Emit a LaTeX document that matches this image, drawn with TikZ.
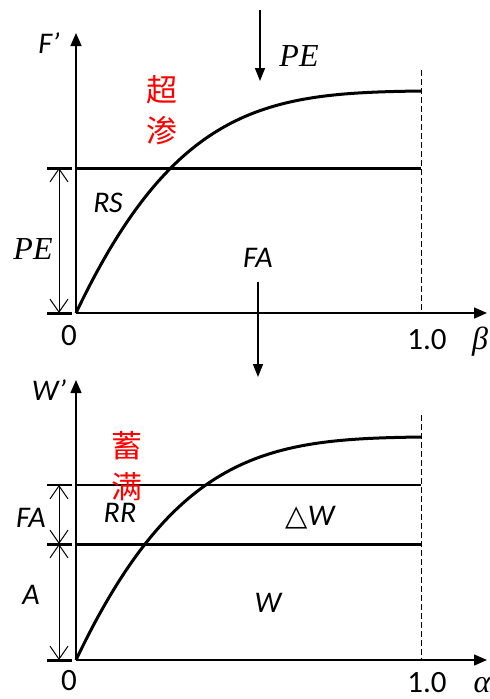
\documentclass[tikz,border=0pt]{standalone}
\usepackage{fontspec}
\usepackage{tikz}
\usetikzlibrary{arrows.meta}
\newfontfamily\labfont{Carlito}
\newfontfamily\varfont{Liberation Serif}
\newfontfamily\trifont{DejaVu Sans}
\newfontfamily\cjk{Noto Sans CJK SC}

\begin{document}
\begin{tikzpicture}[
  x=1pt, y=-1pt,
  axis/.style={line width=1.5pt, -{Triangle[length=13pt, width=11pt]}},
  flow/.style={line width=1.5pt, -{Triangle[length=13pt, width=10pt]}},
  level/.style={line width=3pt},
  thinlevel/.style={line width=2pt},
  tick/.style={line width=3pt},
  limit/.style={line width=1pt, dash pattern=on 6pt off 3pt},
  runoff/.style={line width=3pt},
  dim/.style={line width=1pt, {Straight Barb[length=13pt, width=18pt]}-{Straight Barb[length=13pt, width=18pt]}},
  lab/.style={font=\labfont\itshape\fontsize{30}{32}\selectfont, inner sep=0pt},
  num/.style={font=\labfont\fontsize{31}{32}\selectfont, inner sep=0pt, anchor=base},
  mth/.style={font=\varfont\itshape\fontsize{32}{34}\selectfont, inner sep=0pt},
  cn/.style={text=red, font=\cjk\fontsize{31}{41}\selectfont, align=center, inner sep=0pt}
]
\useasboundingbox (0,0) rectangle (490,699);

% upper plot: F' against beta
\coordinate (o1) at (76,313);
\coordinate (ytop1) at (76,33);
\coordinate (xend1) at (487,313);
\draw[axis] (o1) -- (ytop1);
\draw[axis] (o1) -- (xend1);
\draw[tick] (47,313) -- (72,313);
\draw[tick] (47,168) -- (72,168);
\coordinate (pe1) at (77,168);
\coordinate (pe2) at (421,168);
\draw[level] (pe1) -- (pe2);
\draw[limit] (421,70) -- (421,313);
\coordinate (top1) at (421,91);
\draw[runoff] (o1) .. controls (176,103) and (270,93) .. (top1);
\coordinate (d1a) at (59,168);
\coordinate (d1b) at (59,313);
\draw[dim] (d1a) -- (d1b);

\node[lab] (fp) at (49,43) {F’};
\node[num] (zero1) at (69,345) {0};
\node[num] (one1) at (427,349) {1.0};
\node[mth, anchor=base] (beta) at (480,349) {β};
\node[mth] (pelab) at (33,249) {PE};
\node[lab] (rs) at (108,203) {RS};
\node[cn] (chaoshen) at (162,110) {超\\渗};

% rain input and infiltration
\coordinate (pein) at (260,10);
\coordinate (peout) at (260,81);
\draw[flow] (pein) -- (peout);
\node[mth] (pein lab) at (299,56) {PE};
\node[lab] (fa) at (258,258) {FA};
\coordinate (fain) at (258,282);
\coordinate (faout) at (258,377);
\draw[flow] (fain) -- (faout);

% lower plot: W' against alpha
\coordinate (o2) at (76,660);
\coordinate (ytop2) at (76,380);
\coordinate (xend2) at (487,660);
\draw[axis] (o2) -- (ytop2);
\draw[axis] (o2) -- (xend2);
\draw[tick] (47,660) -- (72,660);
\draw[tick] (47,544) -- (72,544);
\draw[thinlevel] (47,485) -- (72,485);
\draw[thinlevel] (77,485) -- (421,485);
\draw[level] (77,544) -- (421,544);
\draw[limit] (421,415) -- (421,660);
\coordinate (top2) at (421,437);
\draw[runoff] (o2) .. controls (176,450) and (270,439) .. (top2);
\coordinate (d2a) at (59,485);
\coordinate (d2b) at (59,544);
\coordinate (d2c) at (59,660);
\draw[dim] (d2a) -- (d2b);
\draw[dim] (d2b) -- (d2c);

\node[lab] (wp) at (49,390) {W’};
\node[num] (zero2) at (69,690) {0};
\node[num] (one2) at (427,692) {1.0};
\node[mth, anchor=base] (alpha) at (482,692) {α};
\node[lab] (falab) at (31,518) {FA};
\node[lab] (alab) at (31,595) {A};
\node[lab] (rr) at (120,513) {RR};
\node[cn] (xuman) at (127,466) {蓄\\满};
\node[lab] (dw) at (310,518) {{\trifont\upshape\fontsize{29}{30}\selectfont△}W};
\node[lab] (w) at (268,603) {W};
\end{tikzpicture}
\end{document}
